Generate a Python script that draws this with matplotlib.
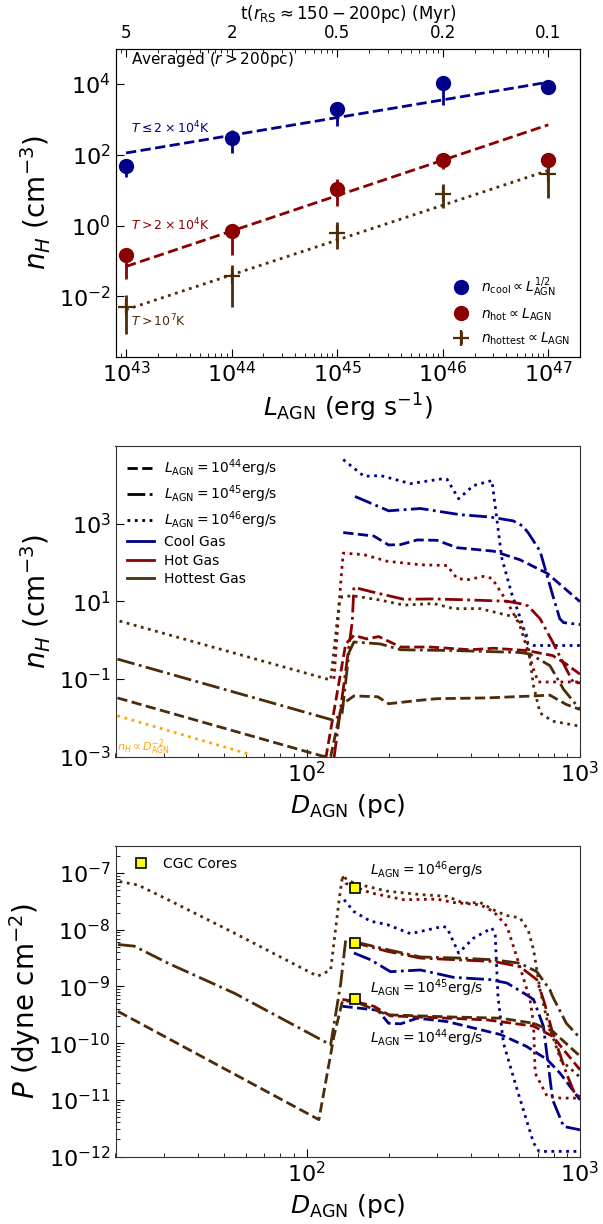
import numpy as np
import matplotlib.pyplot as plt
from matplotlib.lines import Line2D
from matplotlib.ticker import LogLocator, NullLocator, NullFormatter, FixedLocator, FixedFormatter

BLUE = '#00008b'
RED = '#8b0000'
BROWN = '#4d2a08'

# ---------------- top panel: averaged densities vs L_AGN ----------------
L_agn = [1e43, 1e44, 1e45, 1e46, 1e47]
t_labels = ['5', '2', '0.5', '0.2', '0.1']

n_cool = [49, 300, 1900, 10500, 8100]
n_cool_lo = [24, 112, 660, 2570, 7000]
n_cool_hi = [71, 500, 3100, 10500, 9500]

n_hot = [0.15, 0.68, 11, 69, 70]
n_hot_lo = [0.030, 0.15, 3.5, 39, 50]
n_hot_hi = [0.23, 0.90, 20, 80, 80]

n_hottest = [0.005, 0.037, 0.63, 8, 29]
n_hottest_lo = [0.00085, 0.005, 0.22, 3.2, 6]
n_hottest_hi = [0.011, 0.079, 1.29, 15, 45]

fit_L = [1e43, 1e47]
fit_cool = [112, 11200]
fit_hot = [0.07, 700]
fit_hottest = [0.0042, 36]

# ---------------- middle panel: n_H profiles (log10 D, log10 n) ----------------
nD_cool44 = [2.134, 2.246, 2.30, 2.344, 2.405, 2.477, 2.55, 2.684, 2.78, 2.88, 3.0]
n_cool44 = [2.77, 2.68, 2.45, 2.46, 2.58, 2.57, 2.38, 2.29, 2.07, 1.72, 0.99]
nD_cool45 = [2.177, 2.30, 2.416, 2.562, 2.672, 2.756, 2.79, 2.81, 2.854, 2.90, 2.926, 2.94, 3.0]
n_cool45 = [3.70, 3.33, 3.39, 3.23, 3.17, 3.07, 2.94, 2.77, 2.29, 1.16, 0.55, 0.45, 0.40]
nD_cool46 = [2.134, 2.21, 2.27, 2.38, 2.50, 2.514, 2.556, 2.61, 2.678, 2.714, 2.75, 2.79, 2.81, 2.83, 3.0]
n_cool46 = [4.65, 4.22, 4.24, 4.03, 4.16, 4.14, 3.64, 3.98, 4.11, 2.11, 1.2, 0.4, -0.1, -0.14, -0.14]

nD_hot44 = [2.07, 2.143, 2.173, 2.22, 2.264, 2.344, 2.453, 2.60, 2.684, 2.805, 2.90, 2.95, 3.0]
n_hot44 = [-3.05, -0.10, 0.12, 0.03, 0.09, -0.18, -0.18, -0.25, -0.21, -0.27, -0.40, -0.62, -0.88]
nD_hot45 = [2.10, 2.167, 2.173, 2.234, 2.356, 2.465, 2.61, 2.733, 2.78, 2.81, 2.854, 2.90, 2.95, 2.976, 3.0]
n_hot45 = [-3.05, 0.47, 1.36, 1.25, 1.05, 1.06, 1.03, 1.0, 0.94, 0.88, 0.55, -0.05, -0.75, -1.10, -1.10]
nD_hot46 = [2.10, 2.125, 2.134, 2.21, 2.295, 2.416, 2.514, 2.55, 2.587, 2.647, 2.678, 2.733, 2.78, 2.83, 2.847, 3.0]
n_hot46 = [-1.0, 1.5, 2.24, 2.20, 2.03, 1.94, 1.92, 1.59, 1.55, 1.64, 1.59, 0.99, 0.38, -0.75, -1.08, -1.08]

nD_hottest44 = [1.308, 2.058, 2.088, 2.125, 2.137, 2.173, 2.26, 2.30, 2.416, 2.477, 2.66, 2.83, 2.89, 2.95, 3.0]
n_hottest44 = [-1.49, -2.99, -3.0, -1.79, -1.62, -1.44, -1.46, -1.64, -1.55, -1.51, -1.49, -1.44, -1.42, -1.66, -1.79]
nD_hottest45 = [1.308, 2.10, 2.13, 2.155, 2.173, 2.27, 2.344, 2.538, 2.684, 2.78, 2.817, 2.89, 2.94, 3.0]
n_hottest45 = [-0.49, -2.07, -1.88, -0.32, -0.05, -0.10, -0.25, -0.27, -0.30, -0.32, -0.36, -0.66, -1.27, -1.79]
nD_hottest46 = [1.316, 2.088, 2.12, 2.13, 2.17, 2.27, 2.356, 2.465, 2.538, 2.635, 2.733, 2.77, 2.805, 2.83, 2.854, 2.90, 3.0]
n_hottest46 = [0.49, -1.03, 1.0, 1.12, 1.14, 1.03, 0.90, 0.94, 0.81, 0.81, 0.64, 0.60, 0.12, -1.18, -1.88, -2.09, -2.22]

guide_D = [1.308, 1.80]
guide_n = [-1.95, -2.96]

# ---------------- bottom panel: pressure profiles (log10 D, log10 P) ----------------
pD_cool44 = [2.131, 2.26, 2.30, 2.344, 2.405, 2.514, 2.71, 2.805, 2.88, 2.927, 3.0]
p_cool44 = [-9.35, -9.42, -9.65, -9.66, -9.56, -9.62, -9.85, -10.06, -10.29, -10.53, -11.0]
pD_cool45 = [2.173, 2.234, 2.307, 2.416, 2.538, 2.672, 2.733, 2.805, 2.83, 2.866, 2.90, 2.94, 3.0]
p_cool45 = [-8.41, -8.53, -8.74, -8.71, -8.84, -8.88, -8.94, -9.15, -9.23, -9.70, -11.0, -11.47, -11.53]
pD_cool46 = [2.137, 2.173, 2.234, 2.295, 2.38, 2.50, 2.514, 2.556, 2.61, 2.678, 2.69, 2.70, 2.72, 2.77, 2.83, 2.85, 3.0]
p_cool46 = [-7.47, -7.68, -7.85, -7.91, -8.07, -7.94, -7.97, -8.41, -8.15, -7.97, -8.1, -9.18, -10.0, -10.82, -11.76, -11.91, -11.91]

pD_hot44 = [2.131, 2.173, 2.246, 2.307, 2.416, 2.66, 2.83, 2.90, 3.0]
p_hot44 = [-9.23, -9.26, -9.35, -9.52, -9.54, -9.59, -9.70, -9.88, -10.47]
pD_hot45 = [2.161, 2.295, 2.416, 2.684, 2.78, 2.842, 2.87, 2.90, 2.95, 2.98, 3.0]
p_hot45 = [-8.21, -8.38, -8.50, -8.56, -8.65, -8.88, -9.29, -9.82, -10.53, -10.88, -10.95]
pD_hot46 = [2.131, 2.143, 2.234, 2.356, 2.477, 2.538, 2.635, 2.684, 2.733, 2.78, 2.817, 2.83, 2.836, 2.88, 2.93, 3.0]
p_hot46 = [-7.06, -7.18, -7.35, -7.47, -7.46, -7.52, -7.56, -7.68, -7.94, -8.65, -9.23, -9.65, -10.53, -10.94, -10.97, -10.97]

pD_hottest44 = [1.31, 2.045, 2.10, 2.131, 2.173, 2.295, 2.538, 2.71, 2.83, 2.90, 3.0]
p_hottest44 = [-9.44, -11.35, -9.88, -9.26, -9.26, -9.50, -9.54, -9.56, -9.65, -9.79, -10.23]
pD_hottest45 = [1.31, 1.37, 1.493, 1.736, 2.088, 2.125, 2.143, 2.173, 2.295, 2.416, 2.562, 2.684, 2.78, 2.842, 2.89, 2.90, 2.95, 3.0]
p_hottest45 = [-8.26, -8.29, -8.59, -9.12, -10.03, -8.94, -8.18, -8.21, -8.35, -8.48, -8.50, -8.53, -8.59, -8.74, -9.06, -9.18, -9.65, -9.91]
pD_hottest46 = [1.316, 1.383, 1.493, 1.736, 2.04, 2.088, 2.10, 2.119, 2.131, 2.173, 2.295, 2.416, 2.514, 2.574, 2.635, 2.696, 2.733, 2.78, 2.81, 2.83, 2.854, 2.88, 2.93, 3.0]
p_hottest46 = [-7.15, -7.21, -7.47, -8.06, -8.82, -8.71, -8.23, -7.47, -7.06, -7.18, -7.32, -7.38, -7.41, -7.53, -7.52, -7.68, -7.75, -7.79, -8.0, -8.35, -9.06, -9.6, -10.3, -10.6]

cgc_D = [150, 150, 150]
cgc_P = [5.5e-8, 5.9e-9, 5.9e-10]

W, H = 603, 1224
fig = plt.figure(figsize=(W / 100, H / 100), dpi=100)

TICK_FS = 16


def frame(ax):
    for s in ax.spines.values():
        s.set_color('#333333')
    ax.tick_params(which='both', direction='in', labelsize=TICK_FS, top=False, right=False)
    ax.tick_params(which='major', length=6)
    ax.tick_params(which='minor', length=3)


def box(left, top, right, bottom):
    return fig.add_axes([left / W, 1 - bottom / H, (right - left) / W, (bottom - top) / H])


# ===== top panel =====
ax1 = box(115.5, 48.5, 580, 356.5)
frame(ax1)
ax1.set_xscale('log')
ax1.set_yscale('log')

ax1.plot(fit_L, fit_cool, '--', color=BLUE, lw=2)
ax1.plot(fit_L, fit_hot, '--', color=RED, lw=2)
ax1.plot(fit_L, fit_hottest, ':', color=BROWN, lw=2)


def yerr(v, lo, hi):
    v = np.array(v)
    return [v - np.array(lo), np.array(hi) - v]


ax1.errorbar(L_agn, n_cool, yerr=yerr(n_cool, n_cool_lo, n_cool_hi), fmt='o', color=BLUE,
             ms=10, elinewidth=2, capsize=0, label=r'$n_{\rm cool} \propto L_{\rm AGN}^{1/2}$')
ax1.errorbar(L_agn, n_hot, yerr=yerr(n_hot, n_hot_lo, n_hot_hi), fmt='o', color=RED,
             ms=10, elinewidth=2, capsize=0, label=r'$n_{\rm hot} \propto L_{\rm AGN}$')
ax1.errorbar(L_agn, n_hottest, yerr=yerr(n_hottest, n_hottest_lo, n_hottest_hi), fmt='+', color=BROWN,
             ms=11, mew=1.6, elinewidth=2, capsize=0, label=r'$n_{\rm hottest} \propto L_{\rm AGN}$')

ax1.set_xlim(10 ** 42.9, 10 ** 47.3)
ax1.set_ylim(2e-4, 1e5)
ax1.xaxis.set_major_locator(FixedLocator(L_agn))
ax1.xaxis.set_minor_locator(LogLocator(base=10, subs=np.arange(2, 10)))
ax1.yaxis.set_major_locator(FixedLocator([1e-2, 1, 1e2, 1e4]))
ax1.yaxis.set_minor_locator(NullLocator())
ax1.set_xlabel(r'$L_{\rm AGN}$ (erg s$^{-1}$)', fontsize=18)
ax1.set_ylabel(r'$n_H$ (cm$^{-3}$)', fontsize=20)

ax1.text(0.033, 0.965, r'Averaged ($r > 200$pc)', transform=ax1.transAxes, fontsize=11, va='center')
ax1.text(0.033, 0.743, r'$T \leq 2\times10^4$K', transform=ax1.transAxes, fontsize=9, color=BLUE, va='center')
ax1.text(0.033, 0.428, r'$T > 2\times10^4$K', transform=ax1.transAxes, fontsize=9, color=RED, va='center')
ax1.text(0.033, 0.115, r'$T > 10^7$K', transform=ax1.transAxes, fontsize=9, color=BROWN, va='center')
ax1.legend(loc='lower right', frameon=False, fontsize=10, numpoints=1, handletextpad=0.6,
           labelspacing=0.55, borderaxespad=0.3, handlelength=1.6)

ax1t = ax1.twiny()
ax1t.set_xscale('log')
ax1t.set_xlim(ax1.get_xlim())
ax1t.xaxis.set_major_locator(FixedLocator(L_agn))
ax1t.xaxis.set_major_formatter(FixedFormatter(t_labels))
ax1t.xaxis.set_minor_locator(LogLocator(base=10, subs=np.arange(2, 10)))
ax1t.xaxis.set_minor_formatter(NullFormatter())
ax1t.tick_params(which='both', direction='in', labelsize=12, pad=5)
ax1t.tick_params(which='major', length=6)
ax1t.tick_params(which='minor', length=3)
ax1t.set_xlabel(r't($r_{\rm RS} \approx 150-200$pc) (Myr)', fontsize=12, labelpad=3)

# ===== middle panel =====
ax2 = box(115.5, 446, 580, 756.5)
frame(ax2)
ax2.set_xscale('log')
ax2.set_yscale('log')
dens = [(nD_cool44, n_cool44, BLUE, '--'), (nD_cool45, n_cool45, BLUE, '-.'), (nD_cool46, n_cool46, BLUE, ':'),
        (nD_hot44, n_hot44, RED, '--'), (nD_hot45, n_hot45, RED, '-.'), (nD_hot46, n_hot46, RED, ':'),
        (nD_hottest44, n_hottest44, BROWN, '--'), (nD_hottest45, n_hottest45, BROWN, '-.'),
        (nD_hottest46, n_hottest46, BROWN, ':')]
for d, v, c, ls in dens:
    ax2.plot(10 ** np.array(d), 10 ** np.array(v), ls, color=c, lw=2)
ax2.plot(10 ** np.array(guide_D), 10 ** np.array(guide_n), ':', color='orange', lw=2)
ax2.text(20.3, 10 ** -2.75, r'$n_H \propto D_{\rm AGN}^{-2}$', color='orange', fontsize=8, va='center')
ax2.set_xlim(20, 1000)
ax2.set_ylim(1e-3, 1e5)
ax2.yaxis.set_major_locator(FixedLocator([1e-3, 1e-1, 1e1, 1e3]))
ax2.yaxis.set_minor_locator(NullLocator())
ax2.xaxis.set_minor_locator(LogLocator(base=10, subs=np.arange(2, 10)))
ax2.xaxis.set_minor_formatter(NullFormatter())
ax2.set_xlabel(r'$D_{\rm AGN}$ (pc)', fontsize=18)
ax2.set_ylabel(r'$n_H$ (cm$^{-3}$)', fontsize=20)
handles = [Line2D([], [], color='k', ls='--', lw=2), Line2D([], [], color='k', ls='-.', lw=2),
           Line2D([], [], color='k', ls=':', lw=2), Line2D([], [], color=BLUE, lw=2),
           Line2D([], [], color=RED, lw=2), Line2D([], [], color=BROWN, lw=2)]
labels = [r'$L_{\rm AGN} = 10^{44}$erg/s', r'$L_{\rm AGN} = 10^{45}$erg/s', r'$L_{\rm AGN} = 10^{46}$erg/s',
          'Cool Gas', 'Hot Gas', 'Hottest Gas']
ax2.legend(handles, labels, loc='upper left', frameon=False, fontsize=10, labelspacing=0.32,
           handlelength=2.0, handletextpad=0.7, borderaxespad=0.4)

# ===== bottom panel =====
ax3 = box(115.5, 846, 580, 1156.5)
frame(ax3)
ax3.set_xscale('log')
ax3.set_yscale('log')
pres = [(pD_cool44, p_cool44, BLUE, '--'), (pD_cool45, p_cool45, BLUE, '-.'), (pD_cool46, p_cool46, BLUE, ':'),
        (pD_hot44, p_hot44, RED, '--'), (pD_hot45, p_hot45, RED, '-.'), (pD_hot46, p_hot46, RED, ':'),
        (pD_hottest44, p_hottest44, BROWN, '--'), (pD_hottest45, p_hottest45, BROWN, '-.'),
        (pD_hottest46, p_hottest46, BROWN, ':')]
for d, v, c, ls in pres:
    ax3.plot(10 ** np.array(d), 10 ** np.array(v), ls, color=c, lw=2)
ax3.plot(cgc_D, cgc_P, 's', color='yellow', mec='k', mew=1.2, ms=7, label='CGC Cores', zorder=5)
ax3.text(0.547, 0.923, r'$L_{\rm AGN} = 10^{46}$erg/s', transform=ax3.transAxes, fontsize=10, va='center')
ax3.text(0.547, 0.543, r'$L_{\rm AGN} = 10^{45}$erg/s', transform=ax3.transAxes, fontsize=10, va='center')
ax3.text(0.547, 0.382, r'$L_{\rm AGN} = 10^{44}$erg/s', transform=ax3.transAxes, fontsize=10, va='center')
ax3.set_xlim(20, 1000)
ax3.set_ylim(1e-12, 3e-7)
ax3.yaxis.set_major_locator(FixedLocator([1e-12, 1e-11, 1e-10, 1e-9, 1e-8, 1e-7]))
ax3.yaxis.set_minor_locator(LogLocator(base=10, subs=np.arange(2, 10)))
ax3.yaxis.set_minor_formatter(NullFormatter())
ax3.xaxis.set_minor_locator(LogLocator(base=10, subs=np.arange(2, 10)))
ax3.xaxis.set_minor_formatter(NullFormatter())
ax3.set_xlabel(r'$D_{\rm AGN}$ (pc)', fontsize=18)
ax3.set_ylabel(r'$P$ (dyne cm$^{-2}$)', fontsize=20)
ax3.legend(loc='upper left', frameon=False, fontsize=10, numpoints=1, handletextpad=0.6, borderaxespad=0.4)

fig.savefig('out.png', dpi=100)
